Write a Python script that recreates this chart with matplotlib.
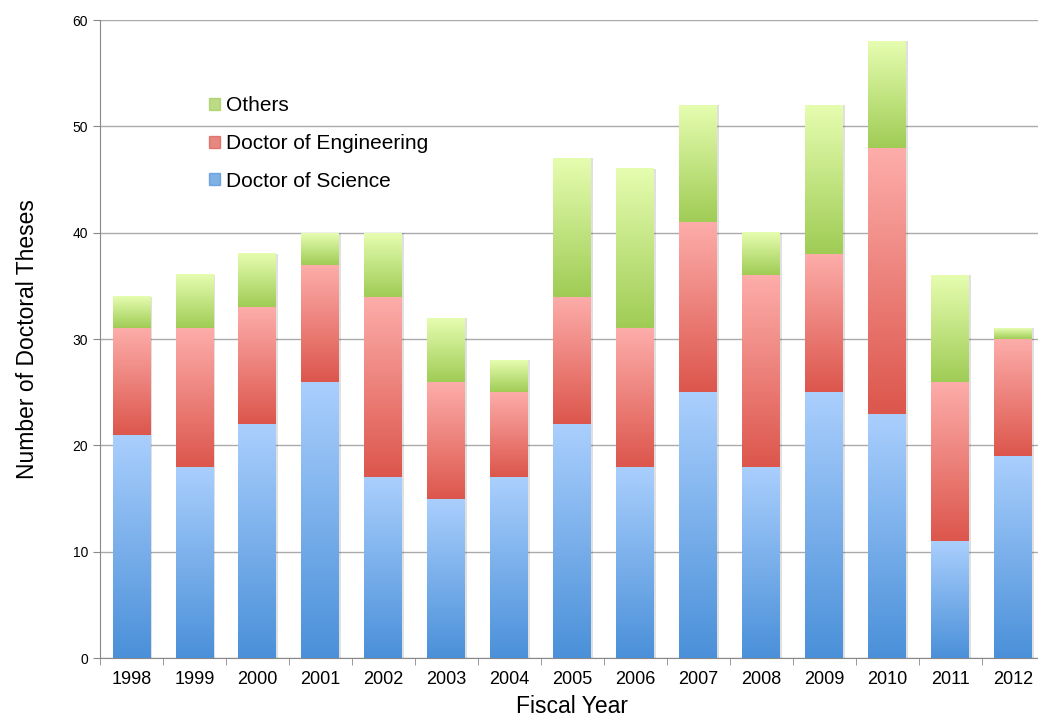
import numpy as np
import matplotlib
matplotlib.use("Agg")
import matplotlib.pyplot as plt
from matplotlib.colors import LinearSegmentedColormap
from matplotlib.patches import Patch

plt.rcParams['font.family'] = ['Liberation Sans', 'DejaVu Sans']

years = ['1998', '1999', '2000', '2001', '2002', '2003', '2004', '2005',
         '2006', '2007', '2008', '2009', '2010', '2011', '2012']
science = [21, 18, 22, 26, 17, 15, 17, 22, 18, 25, 18, 25, 23, 11, 19]
engineering = [10, 13, 11, 11, 17, 11, 8, 12, 13, 16, 18, 13, 25, 15, 11]
others = [3, 5, 5, 3, 6, 6, 3, 13, 15, 11, 4, 14, 10, 10, 1]

# (bottom colour, top colour) for the gradient fills
grads = {
    'Doctor of Science': ('#4a90d9', '#aacffd'),
    'Doctor of Engineering': ('#dc564c', '#fdadaa'),
    'Others': ('#9fcc55', '#e6fdb0'),
}

fig = plt.figure(figsize=(10.38, 7.2), dpi=100)
ax = fig.add_axes([0.0963, 0.086, 0.91, 0.886])

x = np.arange(len(years))
w = 0.6
grad = np.linspace(0, 1, 256).reshape(-1, 1)

def gbar(xc, bottom, height, cols):
    cmap = LinearSegmentedColormap.from_list('g', cols)
    # soft shadow on the right
    ax.fill_between([xc - w / 2 + 0.03, xc + w / 2 + 0.03], bottom, bottom + height,
                    color='#000000', alpha=0.12, lw=0, zorder=2)
    ax.imshow(grad, cmap=cmap, aspect='auto', origin='lower', zorder=3,
              extent=(xc - w / 2, xc + w / 2, bottom, bottom + height))

bottoms = np.zeros(len(years))
for name, vals in [('Doctor of Science', science),
                   ('Doctor of Engineering', engineering),
                   ('Others', others)]:
    for i, v in enumerate(vals):
        gbar(x[i], bottoms[i], v, grads[name])
    bottoms += np.array(vals)

ax.set_xlim(-0.5, len(years) - 0.5)
ax.set_ylim(0, 60)
ax.set_yticks(range(0, 61, 10))
ax.set_xticks(x)
ax.set_xticklabels(years, fontsize=13)
ax.set_xticks(np.arange(-0.5, len(years), 1), minor=True)
ax.tick_params(axis='x', which='major', length=0, pad=9)
ax.tick_params(axis='x', which='minor', length=5, color='#888888')
ax.tick_params(axis='y', length=5, color='#888888', labelsize=10)
ax.yaxis.grid(True, color='#aaaaaa', lw=1)
ax.set_axisbelow(True)
for s in ['top', 'right']:
    ax.spines[s].set_visible(False)
for s in ['left', 'bottom']:
    ax.spines[s].set_color('#888888')

ax.set_xlabel('Fiscal Year', fontsize=16.5, labelpad=5)
ax.set_ylabel('Number of Doctoral Theses', fontsize=16.5, labelpad=24)

handles = [Patch(color=grads[k][0], alpha=0.7) for k in ['Others', 'Doctor of Engineering', 'Doctor of Science']]
leg = ax.legend(handles, ['Others', 'Doctor of Engineering', 'Doctor of Science'],
                loc='upper left', bbox_to_anchor=(0.096, 0.91), frameon=False,
                fontsize=15, handlelength=0.5, handleheight=0.5, handletextpad=0.3,
                labelspacing=0.9)

fig.savefig('out.png', dpi=100)
